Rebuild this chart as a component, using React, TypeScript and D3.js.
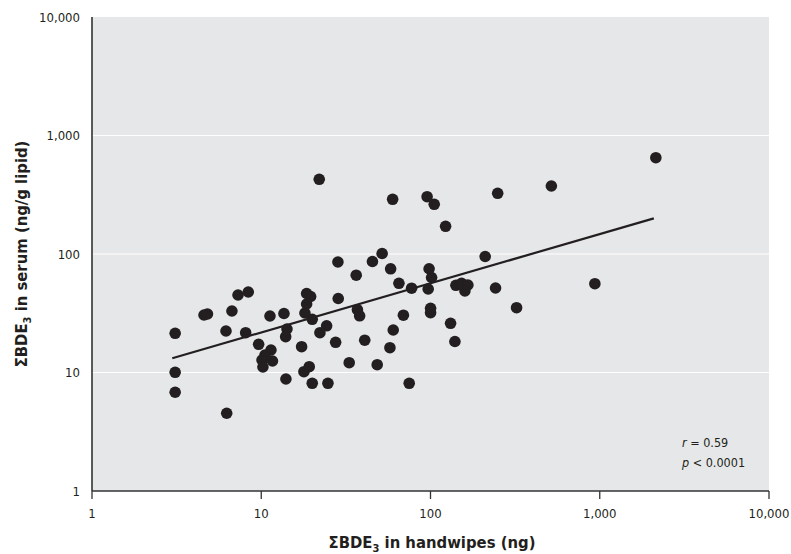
import * as d3 from "d3";

// handwipes (ng) vs serum (ng/g lipid)
const handwipes = [
  3.1, 3.1, 3.1, 6.25, 4.59, 4.81, 6.71, 7.29, 8.38, 6.19, 8.09, 9.65, 11.26, 13.62, 14.19,
  13.94, 11.41, 10.52, 10.1, 11.65, 10.23, 13.99, 18.54, 19.58, 18.54, 18.12, 20.01, 28.5,
  24.34, 22.22, 27.51, 17.32, 19.21, 17.87, 20.01, 24.77, 33.09, 48.43, 40.87, 37.0, 38.13,
  36.4, 28.38, 45.39, 51.78, 58.13, 65.07, 77.33, 69.17, 60.23, 57.58, 74.85, 22.01, 59.74,
  95.48, 105.2, 122.8, 98.1, 101.5, 96.9, 100.1, 100.1, 131.4, 139.4, 141.3, 152.7, 166.3,
  159.7, 210.4, 242.3, 249.4, 322.5, 517.8, 935.7, 2145,
];
const serum = [
  21.42, 10.04, 6.81, 4.53, 30.57, 31.17, 33.04, 45.08, 47.78, 22.39, 21.67, 17.3, 29.98,
  31.47, 23.28, 20.05, 15.48, 14.05, 12.75, 12.5, 11.13, 8.81, 46.42, 43.79, 37.85, 31.78,
  28.11, 42.12, 24.79, 21.67, 17.98, 16.51, 11.19, 10.16, 8.11, 8.11, 12.1, 11.64, 18.73,
  33.88, 30.09, 66.24, 85.59, 86.42, 100.97, 75.02, 56.58, 51.45, 30.44, 22.84, 16.19, 8.11,
  427.0, 289.4, 304.4, 262.7, 171.3, 75.1, 63.35, 50.66, 34.82, 31.97, 26.02, 18.26, 54.43,
  56.58, 54.74, 48.73, 95.26, 51.65, 325.2, 35.23, 374.8, 56.15, 649.5,
];

// fitted line on log-log axes: log10(y) = intercept + slope * log10(x)
const fitSlope = 0.415;
const fitIntercept = 0.923;
const fitRange = [2.98, 2087];

const tickValues = [1, 10, 100, 1000, 10000];
const gridValues = [10, 100, 1000];
const statLines = [
  { sym: "r", rest: " = 0.59" },
  { sym: "p", rest: " < 0.0001" },
];

const W = 791;
const H = 554;
const m = { left: 92, right: 22, top: 17, bottom: 63 };

const FONT = "'Liberation Sans Narrow', 'DejaVu Sans Condensed', 'Arial Narrow', sans-serif";
const INK = "#231f20";

export default function App() {
  const x = d3.scaleLog().domain([1, 10000]).range([m.left, W - m.right]);
  const y = d3.scaleLog().domain([1, 10000]).range([H - m.bottom, m.top]);
  const fmt = d3.format(",");

  const pts = handwipes.map((h, i) => ({ h, s: serum[i] }));
  const fit = fitRange.map((v) => [x(v), y(Math.pow(10, fitIntercept + fitSlope * Math.log10(v)))]);
  const line = d3.line();

  const x0 = x(1);
  const x1 = x(10000);
  const yb = y(1);
  const yt = y(10000);

  return (
    <svg
      width={W}
      height={H}
      style={{ position: "absolute", left: 0, top: 0, background: "#fff" }}
      fontFamily={FONT}
    >
      <rect x={x0} y={yt} width={x1 - x0} height={yb - yt} fill="#e6e7e8" />
      {gridValues.map((g) => (
        <line key={g} x1={x0} x2={x1} y1={y(g)} y2={y(g)} stroke="#fff" strokeWidth={1.2} />
      ))}

      {/* axes */}
      <line x1={x0} x2={x0} y1={yt} y2={yb} stroke="#333" strokeWidth={1.6} />
      <line x1={x0} x2={x1} y1={yb} y2={yb} stroke="#333" strokeWidth={1.6} />
      {tickValues.map((t) => (
        <g key={"x" + t}>
          <line x1={x(t)} x2={x(t)} y1={yb} y2={yb + 8} stroke="#333" strokeWidth={1.3} />
          <text x={x(t)} y={yb + 27} textAnchor="middle" fontSize={13} fill={INK}>
            {fmt(t)}
          </text>
        </g>
      ))}
      {tickValues.map((t) => (
        <text key={"y" + t} x={x0 - 12} y={y(t) + 4.5} textAnchor="end" fontSize={13} fill={INK}>
          {fmt(t)}
        </text>
      ))}

      <path d={line(fit as [number, number][]) || ""} stroke={INK} strokeWidth={2.2} fill="none" />

      {pts.map((p, i) => (
        <circle key={i} cx={x(p.h)} cy={y(p.s)} r={5.8} fill={INK} />
      ))}

      {statLines.map((s, i) => (
        <text key={s.sym} x={682} y={447 + i * 19.5} fontSize={12.5} fill={INK}>
          <tspan fontStyle="italic">{s.sym}</tspan>
          {s.rest}
        </text>
      ))}

      <text x={432} y={548} textAnchor="middle" fontSize={16.5} fontWeight="bold" fill={INK}>
        ΣBDE<tspan fontSize={11} dy={4}>3</tspan>
        <tspan dy={-4}> in handwipes (ng)</tspan>
      </text>
      <text
        transform={`translate(27, ${(yt + yb) / 2}) rotate(-90)`}
        textAnchor="middle"
        fontSize={16.5}
        fontWeight="bold"
        fill={INK}
      >
        ΣBDE<tspan fontSize={11} dy={4}>3</tspan>
        <tspan dy={-4}> in serum (ng/g lipid)</tspan>
      </text>
    </svg>
  );
}
